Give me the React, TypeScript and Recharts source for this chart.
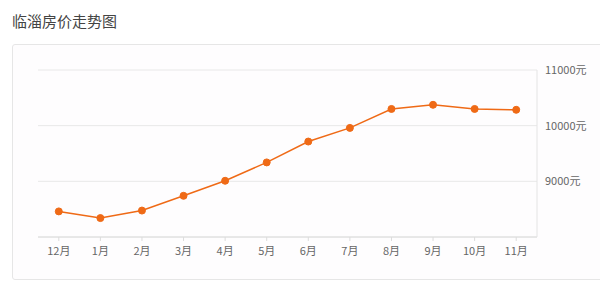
import { LineChart, Line, XAxis, YAxis, CartesianGrid } from "recharts";

const months = ["12月", "1月", "2月", "3月", "4月", "5月", "6月", "7月", "8月", "9月", "10月", "11月"];
const prices = [8460, 8340, 8475, 8740, 9010, 9340, 9715, 9960, 10300, 10375, 10300, 10285];
const yTicks = [9000, 10000, 11000];

const data = months.map((m, i) => ({ month: m, price: prices[i] }));

const font = '"Noto Sans CJK SC", "Noto Sans", sans-serif';
const orange = "#ef6a16";

export default function App() {
  return (
    <div
      style={{
        position: "fixed",
        left: 0,
        top: 0,
        width: 600,
        height: 294,
        background: "#fff",
        overflow: "hidden",
        fontFamily: font,
      }}
    >
      <div
        style={{
          position: "absolute",
          left: 12,
          top: 10,
          fontSize: 15,
          color: "#444",
          lineHeight: "22px",
        }}
      >
        临淄房价走势图
      </div>
      <div
        style={{
          position: "absolute",
          left: 12,
          top: 44,
          width: 620,
          height: 234,
          border: "1px solid #e6e6e6",
          borderRadius: 3,
          background: "#fefdfe",
        }}
      />
      <div style={{ position: "absolute", left: 0, top: 0 }}>
        <LineChart
          width={600}
          height={294}
          data={data}
          margin={{ top: 70, right: 0, bottom: 27, left: 38 }}
        >
          <CartesianGrid horizontal vertical={false} stroke="#e8e8e8" />
          <XAxis
            dataKey="month"
            scale="band"
            height={30}
            axisLine={{ stroke: "#dcdcdc" }}
            tickLine={{ stroke: "#dcdcdc" }}
            tickSize={4}
            tickMargin={6}
            tick={{ fill: "#666", fontSize: 11, fontFamily: font }}
          />
          <YAxis
            orientation="right"
            width={63}
            domain={[8000, 11000]}
            ticks={yTicks}
            axisLine={{ stroke: "#e4e4e4" }}
            tickLine={false}
            tickFormatter={(v: number) => `${v}元`}
            tick={{ fill: "#666", fontSize: 11, fontFamily: font }}
          />
          <Line
            type="linear"
            dataKey="price"
            stroke={orange}
            strokeWidth={1.5}
            dot={{ r: 3.5, fill: orange, stroke: orange, strokeWidth: 1 }}
            isAnimationActive={false}
          />
        </LineChart>
      </div>
    </div>
  );
}
